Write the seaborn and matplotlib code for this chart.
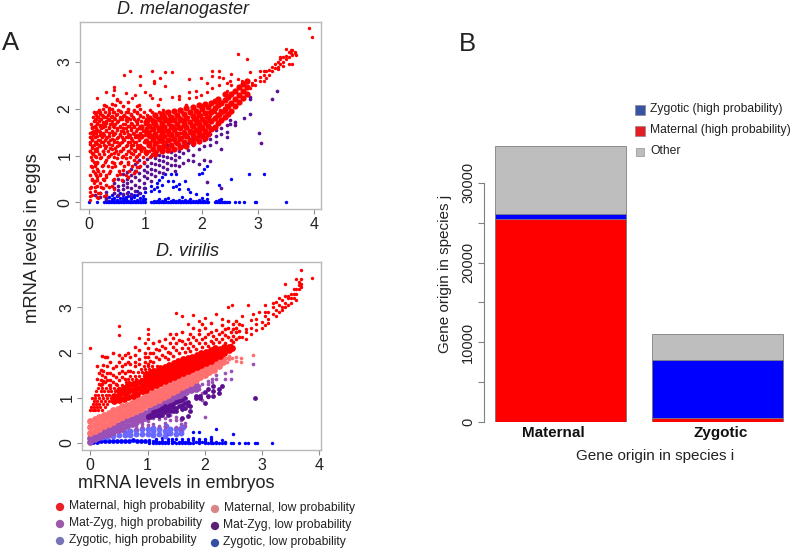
import numpy as np
import pandas as pd
import matplotlib
matplotlib.use("Agg")
import matplotlib.pyplot as plt
import seaborn as sns

sns.set_style("white")
plt.rcParams['font.family'] = ['Liberation Sans', 'DejaVu Sans']

# values, rows are (x, [y values]) unless named _h, those are (y, [x values])
mel_red_dense = [
    (0.92, [1.17, 1.42, 1.62]), (1.02, [1.08, 1.31, 1.52, 1.72]), (1.07, [1.22, 1.43, 1.63, 1.81]),
    (1.13, [1.13, 1.36, 1.56, 1.74]), (1.18, [1.03, 1.27, 1.47, 1.67, 1.86]), (1.24, [1.19, 1.38, 1.59, 1.78]),
    (1.29, [1.09, 1.31, 1.51, 1.69, 1.88]), (1.34, [1.21, 1.42, 1.62, 1.82]), (1.4, [1.12, 1.33, 1.53, 1.73, 1.94]),
    (1.46, [1.23, 1.44, 1.64, 1.83]), (1.51, [1.14, 1.36, 1.56, 1.76, 1.96]), (1.57, [1.26, 1.46, 1.67, 1.87]),
    (1.62, [1.18, 1.38, 1.58, 1.78, 1.98]), (1.68, [1.29, 1.48, 1.69, 1.89]), (1.73, [1.21, 1.41, 1.61, 1.81, 2.02]),
    (1.79, [1.33, 1.52, 1.72, 1.92]), (1.84, [1.27, 1.44, 1.64, 1.84, 2.04]), (1.9, [1.37, 1.55, 1.76, 1.96]),
    (1.95, [1.32, 1.48, 1.67, 1.87, 2.07]), (2.01, [1.42, 1.59, 1.79, 1.99]), (2.06, [1.37, 1.52, 1.71, 1.91, 2.09]),
    (2.12, [1.47, 1.63, 1.83, 2.03]), (2.17, [1.56, 1.74, 1.94, 2.12]), (2.23, [1.61, 1.81, 2.01, 2.16]),
    (2.29, [1.69, 1.87, 2.07, 2.21]), (2.35, [1.76, 1.93, 2.13]), (2.41, [1.82, 1.99, 2.18, 2.31]),
    (2.47, [1.89, 2.06, 2.24]), (2.53, [1.96, 2.13, 2.31]), (2.59, [2.06, 2.21, 2.38]), (2.66, [2.14, 2.29, 2.46]),
    (2.73, [2.22, 2.38, 2.53]), (2.8, [2.31, 2.47, 2.6]),
]
mel_red_h = [
    (0.33, [0.03, 0.11, 0.21, 0.36]), (0.47, [0.06, 0.14, 0.27, 0.43, 0.58]), (0.58, [0.02, 0.12, 0.19, 0.31, 0.49, 0.66]),
    (0.68, [0.07, 0.16, 0.24, 0.38, 0.53, 0.71, 0.83]), (0.78, [0.04, 0.11, 0.23, 0.33, 0.47, 0.62, 0.77, 0.91]),
    (0.87, [0.08, 0.15, 0.29, 0.41, 0.56, 0.69, 0.86, 0.97]),
    (0.97, [0.03, 0.13, 0.22, 0.34, 0.44, 0.59, 0.73, 0.84, 0.95, 1.09]),
    (1.03, [0.07, 0.18, 0.27, 0.39, 0.52, 0.66, 0.78, 0.89, 1.01, 1.12]),
    (1.09, [0.02, 0.11, 0.24, 0.33, 0.48, 0.57, 0.71, 0.82, 0.93, 1.06, 1.21]),
    (1.17, [0.05, 0.14, 0.29, 0.38, 0.46, 0.61, 0.74, 0.86, 0.98, 1.11, 1.25, 1.38]),
    (1.23, [0.09, 0.17, 0.26, 0.41, 0.53, 0.67, 0.79, 0.91, 1.04, 1.16, 1.31, 1.46]),
    (1.28, [0.01, 0.12, 0.21, 0.34, 0.49, 0.58, 0.72, 0.84, 0.97, 1.09, 1.23, 1.36, 1.53]),
    (1.33, [0.06, 0.16, 0.28, 0.37, 0.44, 0.63, 0.76, 0.88, 1.02, 1.14, 1.28, 1.43, 1.59]),
    (1.39, [0.03, 0.1, 0.23, 0.32, 0.51, 0.59, 0.69, 0.81, 0.93, 1.07, 1.2, 1.34, 1.49, 1.66]),
    (1.44, [0.07, 0.19, 0.27, 0.42, 0.55, 0.73, 0.86, 0.99, 1.11, 1.26, 1.41, 1.56, 1.74]),
    (1.49, [0.02, 0.13, 0.24, 0.36, 0.47, 0.62, 0.78, 0.91, 1.04, 1.17, 1.32, 1.47, 1.61, 1.8]),
    (1.53, [0.09, 0.17, 0.31, 0.4, 0.57, 0.67, 0.83, 0.95, 1.08, 1.22, 1.37, 1.52, 1.68, 1.87]),
    (1.58, [0.05, 0.12, 0.22, 0.35, 0.5, 0.61, 0.74, 0.88, 1.01, 1.15, 1.29, 1.44, 1.58, 1.74, 1.93]),
    (1.63, [0.1, 0.19, 0.28, 0.43, 0.55, 0.71, 0.8, 0.94, 1.07, 1.2, 1.35, 1.5, 1.65, 1.81, 2.0]),
    (1.67, [0.03, 0.15, 0.25, 0.37, 0.47, 0.64, 0.76, 0.86, 0.99, 1.13, 1.27, 1.41, 1.56, 1.71, 1.88, 2.06]),
    (1.73, [0.08, 0.18, 0.31, 0.41, 0.52, 0.68, 0.83, 0.93, 1.05, 1.18, 1.33, 1.46, 1.62, 1.77, 1.94, 2.13]),
    (1.78, [0.12, 0.21, 0.34, 0.46, 0.58, 0.72, 0.87, 1.01, 1.12, 1.24, 1.39, 1.53, 1.69, 1.84, 2.01, 2.2]),
    (1.83, [0.07, 0.16, 0.27, 0.39, 0.55, 0.66, 0.79, 0.95, 1.08, 1.19, 1.31, 1.47, 1.59, 1.75, 1.91, 2.08, 2.26]),
    (1.87, [0.13, 0.23, 0.33, 0.48, 0.62, 0.75, 0.9, 1.03, 1.15, 1.27, 1.42, 1.55, 1.71, 1.83, 1.98, 2.15, 2.33]),
    (1.93, [0.09, 0.19, 0.29, 0.43, 0.57, 0.7, 0.85, 0.98, 1.12, 1.24, 1.37, 1.51, 1.66, 1.8, 1.95, 2.1, 2.24, 2.4]),
    (1.97, [0.17, 0.35, 0.52, 0.8, 1.09, 1.31, 1.63, 1.9, 2.19, 2.32]),
    (2.07, [0.26, 0.46, 0.89, 1.22, 1.72, 2.02, 2.28, 2.44]),
]
mel_red_mid = [
    (0.02, [0.3, 1.1, 1.25, 1.4]), (0.06, [0.15, 0.5, 0.75, 0.9, 1.05, 1.2, 1.35, 1.5, 1.62]),
    (0.1, [0.25, 0.45, 0.62, 0.8, 1.0, 1.15, 1.3, 1.48, 1.6, 1.75, 1.9]),
    (0.15, [0.12, 0.35, 0.55, 0.72, 0.85, 1.1, 1.25, 1.42, 1.55, 1.7, 1.82, 1.93]),
    (0.2, [0.2, 0.42, 0.6, 0.95, 1.2, 1.33, 1.5, 1.65, 1.78, 1.88]),
    (0.25, [0.3, 0.5, 0.8, 1.1, 1.3, 1.45, 1.6, 1.72, 1.85, 2.0]),
    (0.3, [0.15, 0.38, 0.55, 0.9, 1.2, 1.38, 1.55, 1.7, 1.82, 2.05]),
    (0.35, [0.62, 1.0, 1.25, 1.42, 1.6, 1.75, 1.9, 2.02]),
    (0.4, [0.35, 0.75, 1.15, 1.35, 1.5, 1.68, 1.85, 2.0, 2.1]),
    (0.45, [0.5, 0.85, 1.05, 1.3, 1.45, 1.62, 1.8, 1.93]),
    (0.5, [0.95, 1.2, 1.38, 1.55, 1.72, 1.88, 2.18]),
    (0.55, [0.6, 0.85, 1.1, 1.27, 1.45, 1.6, 1.77, 1.95, 2.15]),
    (0.6, [0.7, 1.0, 1.15, 1.35, 1.52, 1.68, 1.85, 2.05]),
    (0.65, [0.95, 1.2, 1.4, 1.58, 1.75, 1.92]),
    (0.7, [0.55, 0.82, 1.1, 1.3, 1.47, 1.63, 1.8, 2.0, 2.15]),
    (0.75, [1.05, 1.22, 1.38, 1.55, 1.7, 1.88]),
    (0.8, [0.62, 0.9, 1.12, 1.3, 1.45, 1.62, 1.78, 1.95]),
    (0.85, [0.75, 1.0, 1.22, 1.4, 1.57, 1.72, 1.9, 2.05]),
    (0.9, [1.2, 1.42, 1.62, 1.85, 2.0]),
]
mel_red_sparse = [
    (0.15, [2.23]), (0.31, [2.35]), (0.43, [2.3]), (0.45, [2.4, 2.46]), (0.5, [2.2]), (0.62, [2.71]), (0.65, [2.33]),
    (0.72, [2.8]), (0.76, [2.22]), (0.82, [2.29]), (0.9, [2.7]), (0.91, [2.5]), (1.0, [2.35]), (1.08, [2.29]),
    (1.11, [2.8, 2.22]), (1.16, [2.54, 2.6]), (1.26, [2.66, 2.2]), (1.35, [2.49, 2.79]), (1.48, [2.78, 2.25]),
    (1.6, [2.2, 2.28]), (1.77, [2.63, 2.35, 2.22]), (1.9, [2.38, 2.25]), (1.98, [2.65, 2.3]), (2.09, [2.55, 2.35]),
    (2.18, [2.7, 2.45]), (2.19, [2.81]), (2.31, [2.8, 2.5]), (2.3, [2.67]), (2.38, [2.65]), (2.45, [2.38, 2.55]),
    (2.52, [2.74, 2.5]), (2.5, [2.6]), (2.65, [2.63, 3.16]), (2.71, [2.59]), (2.81, [3.06, 2.62]), (2.86, [2.78, 2.45]),
    (2.9, [2.55, 2.5]), (2.95, [2.5, 2.62]), (3.03, [2.8, 2.68, 2.6]), (3.1, [2.72, 2.8, 2.6]), (3.15, [2.8, 2.65]),
    (3.2, [2.82, 2.72]), (3.25, [2.9, 2.8]), (3.3, [2.95, 2.87]), (3.35, [3.0, 2.9, 2.84]), (3.4, [3.05, 2.95, 3.1]),
    (3.45, [3.1, 3.0, 2.92]), (3.5, [3.27, 3.12, 3.05]), (3.55, [3.2, 3.1, 2.96]), (3.58, [3.18, 3.25]),
    (3.6, [3.25, 3.15, 2.95]), (3.65, [3.18, 3.22]), (3.68, [3.15]), (3.9, [3.72]), (3.96, [3.54]),
    (0.02, [0.05, 0.14, 0.23]), (0.16, [0.09, 0.21]), (0.26, [0.13]), (0.44, [0.28]), (0.09, [0.42]),
]
mel_purple = [
    (0.1, [0.15]), (0.2, [0.2, 0.12]), (0.3, [0.22, 0.08]), (0.45, [0.3, 0.42, 0.2]), (0.52, [0.35, 0.15, 0.5, 0.26]),
    (0.6, [0.28, 0.45, 0.6, 0.18, 0.37]), (0.68, [0.2, 0.33, 0.5, 0.66, 0.41]), (0.75, [0.3, 0.45, 0.58, 0.72, 0.15]),
    (0.82, [0.25, 0.38, 0.55, 0.68, 0.82]), (0.89, [0.2, 0.34, 0.47, 0.62, 0.76, 0.9]), (0.97, [0.3, 0.42, 0.56, 0.7, 0.85]),
    (1.03, [0.52, 0.65, 0.78, 0.92]), (1.1, [0.46, 0.6, 0.72, 0.85, 1.0]), (1.17, [0.57, 0.7, 0.82, 0.95, 1.08]),
    (1.24, [0.65, 0.8, 0.9, 1.02, 1.15]), (1.31, [0.62, 0.75, 0.88, 1.0, 1.12]), (1.38, [0.72, 0.85, 0.98, 1.1, 1.22]),
    (1.45, [0.8, 0.95, 1.08, 1.2]), (1.52, [0.68, 0.8, 0.9, 1.02, 1.15, 1.28]), (1.6, [0.78, 0.98, 1.1, 1.25]),
    (1.67, [0.85, 1.05, 1.2, 1.32]), (1.75, [0.9, 1.12, 1.27, 1.4]), (1.85, [0.88, 1.02, 1.22, 1.35, 1.45]),
    (1.95, [0.82, 1.15, 1.3, 1.42, 1.52]), (2.05, [0.9, 1.2, 1.33, 1.48]), (2.15, [0.88, 1.22, 1.35, 1.45, 1.55]),
    (2.25, [1.3, 1.42, 1.55]), (2.35, [1.15, 1.45, 1.58]), (2.45, [1.4, 1.5, 1.65]), (2.5, [1.68, 1.75]), (2.6, [1.72, 1.65]),
    (2.75, [1.8]), (2.86, [2.2, 2.25, 1.88]), (3.02, [1.48]), (3.05, [1.27]), (3.25, [2.21]), (3.33, [2.38]),
    (2.1, [0.44]), (2.35, [0.3]),
]
mel_blue_base_x = [0.0, 0.15, 0.27, 0.3, 0.33, 0.36, 0.39, 0.42, 0.45, 0.48, 0.51, 0.54, 0.57, 0.6, 0.63, 0.66, 0.69,
                   0.72, 0.75, 0.78, 0.81, 0.84, 0.87, 0.9, 0.93, 0.96, 0.99, 1.1, 1.13, 1.16, 1.19, 1.22, 1.25, 1.28,
                   1.31, 1.34, 1.37, 1.4, 1.43, 1.46, 1.49, 1.52, 1.55, 1.58, 1.61, 1.64, 1.67, 1.7, 1.73, 1.76, 1.79,
                   1.82, 1.85, 1.88, 1.91, 1.94, 1.97, 2.0, 2.03, 2.06, 2.09, 2.12, 2.24, 2.27, 2.3, 2.33, 2.36, 2.39,
                   2.42, 2.45, 2.48, 2.6, 2.66, 2.75, 2.95, 2.97, 3.5]
mel_blue = [
    (0.3, [0.05, 0.1]), (0.35, [0.04, 0.12]), (0.4, [0.07, 0.15, 0.03]), (0.45, [0.03, 0.1, 0.2]), (0.5, [0.06, 0.13, 0.03]),
    (0.55, [0.03, 0.1, 0.2]), (0.6, [0.05, 0.15, 0.09]), (0.65, [0.08, 0.12, 0.03]), (0.7, [0.04, 0.14, 0.22]),
    (0.75, [0.07, 0.18, 0.11]), (0.8, [0.03, 0.11, 0.16]), (0.85, [0.06, 0.16, 0.25]), (0.9, [0.09, 0.2, 0.03]),
    (0.95, [0.04, 0.13, 0.07]), (1.0, [0.08, 0.3, 0.22]), (1.1, [0.25, 0.35]), (1.15, [0.03, 0.28]), (1.2, [0.04, 0.32, 0.42]),
    (1.25, [0.07, 0.25, 0.48]), (1.3, [0.03, 0.38, 0.55]), (1.35, [0.05, 0.6, 0.08]), (1.4, [0.1, 0.45]), (1.45, [0.03, 0.6]),
    (1.5, [0.06, 0.33, 0.45]), (1.55, [0.03, 0.35, 0.6]), (1.6, [0.05, 0.4, 0.28]), (1.65, [0.03, 0.12]), (1.7, [0.06, 0.45]),
    (1.75, [0.03, 0.28]), (1.8, [0.07, 0.22]), (1.85, [0.04]), (1.9, [0.03, 0.18]), (1.95, [0.05, 0.6]), (2.0, [0.03, 0.1, 0.62]),
    (2.05, [0.04, 0.72]), (2.1, [0.07, 0.18, 0.78]), (2.25, [0.03]), (2.3, [0.06, 0.37]), (2.35, [0.08]), (2.52, [0.5]),
    (2.85, [0.6]), (3.1, [0.6]),
]

vir_red_dense = [
    (0.42, [0.92, 1.05]), (0.5, [0.95, 1.07, 1.18]), (0.58, [0.98, 1.1, 1.22]), (0.66, [1.02, 1.14, 1.26]),
    (0.74, [1.05, 1.18, 1.3]), (0.82, [1.09, 1.22, 1.34]), (0.9, [1.14, 1.26, 1.38]), (0.98, [1.18, 1.3, 1.42, 1.52]),
    (1.06, [1.23, 1.35, 1.47, 1.57]), (1.14, [1.28, 1.4, 1.51, 1.6]), (1.22, [1.33, 1.44, 1.55, 1.65]),
    (1.3, [1.37, 1.48, 1.59, 1.69]), (1.38, [1.41, 1.52, 1.63, 1.73]), (1.46, [1.45, 1.56, 1.67, 1.77]),
    (1.54, [1.5, 1.6, 1.71, 1.81]), (1.62, [1.55, 1.65, 1.75, 1.85]), (1.7, [1.59, 1.69, 1.79, 1.88]),
    (1.78, [1.63, 1.73, 1.83, 1.91]), (1.86, [1.68, 1.77, 1.87, 1.95]), (1.94, [1.72, 1.82, 1.91, 1.99]),
    (2.02, [1.77, 1.86, 1.95, 2.02]), (2.1, [1.82, 1.91, 1.99, 2.06]), (2.18, [1.87, 1.96, 2.03, 2.09]),
    (2.26, [1.93, 2.01, 2.08]), (2.34, [1.99, 2.07, 2.13]), (2.42, [2.05, 2.12]), (2.48, [2.1]),
]
vir_red_h = [
    (0.72, [0.0, 0.05, 0.09, 0.14, 0.2]), (0.79, [0.02, 0.07, 0.12, 0.17, 0.25]), (0.86, [0.04, 0.1, 0.15, 0.22, 0.3]),
    (0.93, [0.06, 0.12, 0.19, 0.26, 0.33, 0.38]), (1.0, [0.03, 0.09, 0.16, 0.23, 0.29, 0.36, 0.43]),
    (1.07, [0.08, 0.14, 0.21, 0.27, 0.33, 0.4, 0.47]), (1.14, [0.1, 0.18, 0.24, 0.31, 0.37, 0.44, 0.52]),
    (1.21, [0.13, 0.2, 0.28, 0.35, 0.41, 0.5, 0.57]), (1.28, [0.19, 0.33, 0.47, 0.55, 0.63, 0.7]),
    (1.35, [0.62, 0.67, 0.76, 0.84]), (1.42, [0.65, 0.72, 0.8, 0.88, 0.95]), (1.49, [0.7, 0.78, 0.85, 0.93, 1.0]),
    (1.56, [0.75, 0.83, 0.9, 0.98, 1.06]), (1.63, [0.88, 0.95, 1.03, 1.1]), (1.7, [0.93, 1.01, 1.08, 1.16]),
]
vir_red_cols = [
    (0.12, [1.7, 1.42]), (0.15, [1.55, 1.3]), (0.18, [1.62, 1.4]), (0.2, [1.92, 1.5, 1.3]), (0.23, [1.72, 1.6, 1.38]),
    (0.25, [1.9, 1.45, 1.35]), (0.3, [1.9, 1.55, 1.7, 1.4]), (0.35, [1.4, 1.8, 1.55, 1.28]), (0.4, [1.98, 1.65, 1.35, 1.5]),
    (0.45, [1.7, 1.45, 1.3]), (0.5, [1.95, 1.55, 1.4, 1.8]), (0.55, [1.88, 1.45, 1.6, 1.7]), (0.6, [1.95, 1.55, 1.75, 1.42]),
    (0.65, [2.0, 1.6, 1.8]), (0.7, [1.75, 1.9, 1.6]), (0.78, [2.12, 1.8, 1.95, 1.7]), (0.85, [2.05, 1.85, 1.75]),
    (0.95, [1.8, 2.0, 1.9]), (1.0, [1.9, 2.1, 1.75]), (1.05, [1.82, 1.98]), (1.1, [1.8, 2.0, 2.2]), (1.15, [1.9, 2.08]),
    (1.2, [1.85, 2.05, 2.25]), (1.25, [1.95, 2.15]), (1.3, [1.9, 2.1, 2.3]), (1.35, [2.02, 1.86]), (1.4, [2.0, 2.2, 2.4]),
    (1.45, [1.92, 2.12, 2.32]), (1.5, [2.05, 2.2, 2.4]), (1.55, [1.98, 2.28]), (1.6, [2.1, 2.25, 2.45]), (1.65, [2.02, 2.18]),
    (1.7, [2.1, 2.3]), (1.75, [2.04, 2.22, 2.4]), (1.8, [2.15, 2.35, 2.55]), (1.85, [2.08, 2.27]), (1.9, [2.2, 2.4, 2.5]),
    (1.95, [2.12, 2.3, 2.62]), (2.0, [2.2, 2.35, 2.55]), (2.05, [2.15, 2.42]), (2.1, [2.25, 2.45, 2.65]), (2.15, [2.2, 2.36]),
    (2.2, [2.3, 2.5]), (2.25, [2.24, 2.41]), (2.3, [2.3, 2.45, 2.6]), (2.35, [2.22, 2.38, 2.52]), (2.4, [2.35, 2.55, 2.7]),
    (2.45, [2.16, 2.28, 2.46]), (2.5, [2.24, 2.36, 2.52, 2.64]), (2.55, [2.3, 2.45, 2.7, 2.55]), (2.6, [2.34, 2.48, 2.62]),
]
vir_red_sparse = [
    (0.0, [2.1]), (0.5, [2.58, 2.38]), (0.85, [2.33]), (0.95, [2.2]), (1.0, [2.42, 2.52, 2.3]), (1.5, [2.87]),
    (1.6, [2.8]), (1.8, [2.82]), (1.7, [2.63]), (1.9, [2.7]), (2.0, [2.77]), (2.2, [2.85]), (2.3, [2.75]), (2.4, [3.0]),
    (2.48, [3.05]), (2.75, [3.05]), (2.85, [2.85]), (2.95, [2.9]), (3.05, [2.6, 2.8, 2.9, 3.05]), (3.1, [2.75, 2.9, 2.65]),
    (3.2, [2.85, 3.0, 3.1]), (3.25, [2.8, 2.95, 3.12]), (3.3, [2.9, 3.05, 3.2]), (3.35, [3.0, 2.95, 3.15]),
    (3.4, [3.1, 3.0, 3.25, 3.52]), (3.45, [3.05, 3.2, 3.25]), (3.5, [3.2, 3.1, 3.3]), (3.55, [3.3, 3.2, 3.4]),
    (3.6, [3.3, 3.15, 3.4, 3.62]), (3.65, [3.4, 3.5, 3.55]), (3.68, [3.45, 3.52, 3.83, 3.63]), (3.88, [3.64]),
    (2.65, [2.6, 2.35, 2.8]), (2.72, [2.45, 2.3, 2.52]), (2.8, [2.55, 2.72, 2.4]), (2.9, [2.5, 2.62, 2.75]), (3.0, [2.55, 2.68]),
]
vir_pink_dense = [
    (0.0, [0.22, 0.35, 0.48]), (0.08, [0.27, 0.4, 0.53]), (0.16, [0.32, 0.45, 0.57]), (0.24, [0.37, 0.5, 0.62]),
    (0.32, [0.42, 0.55, 0.67]), (0.4, [0.47, 0.6, 0.72]), (0.48, [0.52, 0.64, 0.76]), (0.56, [0.57, 0.69, 0.81]),
    (0.64, [0.62, 0.73, 0.85]), (0.72, [0.66, 0.78, 0.89]), (0.8, [0.71, 0.82, 0.94]), (0.88, [0.76, 0.87, 0.98]),
    (0.96, [0.81, 0.92, 1.03]), (1.04, [0.86, 0.97, 1.08]), (1.12, [0.91, 1.02, 1.13]), (1.2, [0.96, 1.07, 1.17]),
    (1.28, [1.01, 1.12, 1.22]), (1.36, [1.07, 1.17, 1.27]), (1.44, [1.12, 1.22, 1.32]), (1.52, [1.17, 1.27, 1.37]),
    (1.6, [1.23, 1.32, 1.42]), (1.68, [1.28, 1.37, 1.47]), (1.76, [1.33, 1.42, 1.52]), (1.84, [1.39, 1.47, 1.57]),
    (1.92, [1.45, 1.53, 1.62]), (2.0, [1.5, 1.58, 1.67]), (2.08, [1.56, 1.64, 1.72]), (2.16, [1.62, 1.7, 1.77]),
    (2.24, [1.7, 1.77, 1.83]), (2.32, [1.79, 1.86]),
]
vir_pink_sparse = [
    (2.38, [1.88, 1.8]), (2.42, [1.85, 1.92]), (2.47, [1.88]), (2.55, [1.82, 1.9]), (2.64, [1.8, 1.87]), (2.85, [1.95]),
]
vir_lpurple_dense = [
    (0.0, [0.03, 0.12]), (0.08, [0.09, 0.19]), (0.16, [0.13, 0.24]), (0.24, [0.17, 0.28]), (0.32, [0.2, 0.32]),
    (0.4, [0.24, 0.36]), (0.48, [0.28, 0.4]), (0.56, [0.32, 0.45]), (0.64, [0.37, 0.5]), (0.72, [0.42, 0.54]),
    (0.8, [0.47, 0.58]), (0.88, [0.5, 0.63]), (0.96, [0.55, 0.67]), (1.04, [0.66, 0.74]), (1.12, [0.72, 0.8]),
    (1.2, [0.78, 0.87]), (1.28, [0.84, 0.92]), (1.36, [0.9, 0.97]), (1.44, [0.95, 1.02]), (1.52, [1.0, 1.08]),
    (1.6, [1.06, 1.14]), (1.68, [1.12, 1.18]), (1.76, [1.17, 1.23]), (1.84, [1.2, 1.28]),
]
vir_lpurple_sparse = [
    (0.8, [0.38, 0.3]), (0.9, [0.42, 0.35]), (1.0, [0.48, 0.4, 0.55]), (1.1, [0.55, 0.42]), (1.2, [0.52, 0.38]),
    (1.3, [0.45, 0.35, 0.56]), (1.4, [0.5, 0.62]), (1.5, [0.35, 0.5, 0.58]), (1.58, [0.42, 0.3, 0.5]), (1.65, [0.38, 0.45]),
    (1.9, [1.05, 1.2, 1.27]), (1.95, [1.1, 0.95, 1.3]), (2.05, [1.02, 1.37, 1.3]), (2.12, [1.42, 1.35]), (2.2, [1.42, 1.5]),
    (2.35, [1.55, 1.42]), (2.45, [1.6, 1.42]), (2.85, [1.75]), (2.0, [0.58]), (1.58, [0.52]),
]
vir_lblue_dense = [
    (0.2, [0.13]), (0.3, [0.14]), (0.4, [0.15]), (0.5, [0.17]), (0.6, [0.18, 0.25]), (0.7, [0.18, 0.27]), (0.8, [0.2, 0.29]),
    (0.9, [0.2, 0.31]), (1.0, [0.2, 0.3]), (1.1, [0.17, 0.26, 0.33]), (1.2, [0.2, 0.3]), (1.3, [0.15, 0.27]), (1.4, [0.22, 0.3]),
    (1.5, [0.2, 0.3]), (1.58, [0.28, 0.33, 0.22]), (1.32, [0.38]), (1.62, [0.36]),
]
vir_dpurple = [
    (1.0, [0.57, 0.6]), (1.05, [0.62, 0.58]), (1.1, [0.6, 0.68]), (1.15, [0.62, 0.7]), (1.2, [0.65, 0.72, 0.6]),
    (1.25, [0.7, 0.63, 0.77]), (1.3, [0.68, 0.75, 0.82]), (1.35, [0.62, 0.72, 0.8]), (1.4, [0.7, 0.78, 0.85]),
    (1.45, [0.7, 0.8, 0.87]), (1.5, [0.78, 0.9, 0.7]), (1.55, [0.82, 0.92]), (1.6, [0.85, 0.95, 0.75, 0.55]),
    (1.65, [0.78, 0.88, 1.0]), (1.7, [0.9, 0.83, 0.6]), (1.75, [0.82, 0.7]), (1.85, [1.0, 1.05]), (1.92, [1.05, 1.0]),
    (2.0, [0.88, 1.12]), (2.05, [1.2, 1.05]), (2.15, [1.03, 1.25, 1.15]), (2.25, [1.2, 1.1]), (2.3, [1.25]), (2.87, [1.0]),
]
vir_blue_dense = [
    (0.05, [0.02]), (0.12, [0.03]), (0.19, [0.04]), (0.26, [0.04]), (0.33, [0.05]), (0.4, [0.05]), (0.47, [0.05]), (0.54, [0.05]),
    (0.61, [0.05]), (0.68, [0.05]), (0.75, [0.06]), (0.82, [0.05]), (0.89, [0.04]), (0.96, [0.04]),
]
vir_blue = [
    (1.03, [0.0, 0.07, 0.03]), (1.1, [0.0, 0.04]), (1.15, [0.0, 0.1, 0.05]), (1.2, [0.0, 0.02]), (1.25, [0.0, 0.05, 0.12]),
    (1.3, [0.0, 0.03]), (1.35, [0.0, 0.08, 0.2, 0.04]), (1.42, [0.0, 0.1, 0.04]), (1.47, [0.02]), (1.5, [0.0, 0.08, 0.18]),
    (1.55, [0.0, 0.03]), (1.6, [0.0, 0.05, 0.1]), (1.65, [0.0, 0.02]), (1.7, [0.0, 0.1, 0.04]), (1.75, [0.0]),
    (1.8, [0.0, 0.07, 0.25, 0.12]), (1.85, [0.02]), (1.9, [0.0, 0.05, 0.1, 0.25]), (1.95, [0.03]), (2.0, [0.0, 0.08, 0.04]),
    (2.05, [0.0]), (2.1, [0.0, 0.1, 0.13, 0.05]), (2.15, [0.0]), (2.2, [0.0, 0.03, 0.3]), (2.25, [0.0]), (2.3, [0.0, 0.06]),
    (2.35, [0.0, 0.02]), (2.45, [0.0]), (2.5, [0.2, 0.0]), (2.6, [0.0]), (2.7, [0.0]), (2.75, [0.0]), (2.88, [0.0]),
    (2.92, [0.0]), (3.18, [0.0]),
]

bar_labels = ['Maternal', 'Zygotic']
bar_red = [25470, 500]
bar_blue = [630, 7280]
bar_other = [8570, 3300]

legend_a = ['Maternal, high probability', 'Mat-Zyg, high probability', 'Zygotic, high probability',
            'Maternal, low probability', 'Mat-Zyg, low probability', 'Zygotic, low probability']
legend_a_col = ['#ea2228', '#9a5aa8', '#7775b8', '#d98585', '#5b1f74', '#3450a2']
legend_b = ['Zygotic (high probability)', 'Maternal (high probability)', 'Other']
legend_b_col = ['#3953a4', '#e31e26', '#bdbdbd']


def expand(rows, swap=False):
    df = pd.DataFrame([(a, b) for a, bs in rows for b in bs], columns=['x', 'y'])
    if swap:
        df.columns = ['y', 'x']
    return df


def axes_px(fig, left, top, right, bottom):
    return fig.add_axes([left / 792, 1 - bottom / 551, (right - left) / 792, (bottom - top) / 551])


def dots(ax, rows, color, s, swap=False):
    sns.scatterplot(data=expand(rows, swap), x='x', y='y', color=color, s=s, linewidth=0, ax=ax, clip_on=False)


def style_scatter(ax, xlim, ylim):
    ax.set_xlim(xlim)
    ax.set_ylim(ylim)
    ax.set_xticks([0, 1, 2, 3, 4])
    ax.set_yticks([0, 1, 2, 3])
    ax.set_xlabel('')
    ax.set_ylabel('')
    for s in ax.spines.values():
        s.set_color('#b8b8b8')
        s.set_linewidth(1.0)
    ax.tick_params(length=3.5, width=0.8, color='#909090', labelsize=11.5, pad=2, left=True, bottom=True,
                   labelcolor='#222222')
    plt.setp(ax.get_yticklabels(), rotation=90, va='center')


fig = plt.figure(figsize=(7.92, 5.51), dpi=100)

# panel A, top
ax1 = axes_px(fig, 80, 22, 321, 209)
sns.scatterplot(x=mel_blue_base_x, y=[0.0] * len(mel_blue_base_x), color='#0000ff', s=6, linewidth=0, ax=ax1, clip_on=False)
dots(ax1, mel_blue, '#0000ff', 6)
dots(ax1, mel_purple, '#5a1090', 7)
dots(ax1, mel_red_h, '#ff0000', 7, swap=True)
dots(ax1, mel_red_mid, '#ff0000', 7)
dots(ax1, mel_red_sparse, '#ff0000', 6)
dots(ax1, mel_red_dense, '#ff0000', 20)
style_scatter(ax1, (-0.16, 4.12), (-0.14, 3.85))

# panel A, bottom
ax2 = axes_px(fig, 82, 262, 321, 450)
dots(ax2, vir_blue, '#0000ff', 6)
dots(ax2, vir_blue_dense, '#0000ff', 12)
dots(ax2, vir_lblue_dense, '#6a68ff', 18)
dots(ax2, vir_lpurple_dense, '#9a50b4', 24)
dots(ax2, vir_lpurple_sparse, '#9a50b4', 7)
dots(ax2, vir_dpurple, '#5a1090', 12)
dots(ax2, vir_pink_dense, '#ff7070', 24)
dots(ax2, vir_pink_sparse, '#ff7070', 7)
dots(ax2, vir_red_h, '#ff0000', 6, swap=True)
dots(ax2, vir_red_cols, '#ff0000', 7)
dots(ax2, vir_red_sparse, '#ff0000', 6)
dots(ax2, vir_red_dense, '#ff0000', 24)
style_scatter(ax2, (-0.145, 4.03), (-0.154, 4.0))

# panel B, stacked bars drawn tallest first
ax3 = axes_px(fig, 484, 140, 790, 422)
bar_total = np.array(bar_red) + np.array(bar_blue) + np.array(bar_other)
bar_mid = np.array(bar_red) + np.array(bar_blue)
for vals, col in [(bar_total, '#bebebe'), (bar_mid, '#0000ff'), (bar_red, '#ff0000')]:
    sns.barplot(x=bar_labels, y=vals, color=col, saturation=1, width=0.834, edgecolor='#808080', linewidth=0.6, ax=ax3)
ax3.set_xlim(-0.487, 1.462)
ax3.set_ylim(0, 35383)
ax3.set_xticks([])
ax3.set_yticks([0, 10000, 20000, 30000])
ax3.set_yticks([5000, 15000, 25000], minor=True)
ax3.tick_params(axis='y', which='both', length=4.5, width=0.8, color='#808080', left=True, labelsize=10.5, pad=2,
                labelcolor='#222222')
plt.setp(ax3.get_yticklabels(), rotation=90, va='center')
sns.despine(ax=ax3, bottom=True)
ax3.spines['left'].set_bounds(0, 30000)
ax3.spines['left'].set_color('#808080')
ax3.spines['left'].set_linewidth(0.8)
ax3.patch.set_alpha(0)

# overlay in pixel coordinates for labels and hand placed legends
ov = fig.add_axes([0, 0, 1, 1], zorder=5)
ov.set_xlim(0, 792)
ov.set_ylim(551, 0)
ov.axis('off')
txt = '#222222'
ov.text(2, 50, 'A', fontsize=18.5, color=txt)
ov.text(459, 51, 'B', fontsize=18.5, color=txt)
ov.text(183, 9, 'D. melanogaster', fontsize=13, fontstyle='italic', ha='center', va='center', color=txt)
ov.text(187, 251, 'D. virilis', fontsize=13, fontstyle='italic', ha='center', va='center', color=txt)
ov.text(33, 238, 'mRNA levels in eggs', fontsize=13.2, rotation=90, ha='center', va='center', color=txt)
ov.text(176, 483, 'mRNA levels in embryos', fontsize=13, ha='center', va='center', color=txt)
ov.text(445, 274, 'Gene origin in species j', fontsize=11, rotation=90, ha='center', va='center', color=txt)
ov.text(655, 456, 'Gene origin in species i', fontsize=11, ha='center', va='center', color=txt)
ov.text(553, 433, bar_labels[0], fontsize=11, fontweight='bold', ha='center', va='center', color='#111111')
ov.text(721, 433, bar_labels[1], fontsize=11, fontweight='bold', ha='center', va='center', color='#111111')

leg_a_x = [60, 60, 60, 215, 215, 215]
leg_a_y = [507, 524, 541, 509, 526, 543]
leg_a_tx = [69, 69, 69, 224, 223, 223]
ov.scatter(leg_a_x, leg_a_y, s=36, c=legend_a_col, linewidths=0)
for tx, ty, lab in zip(leg_a_tx, leg_a_y, legend_a):
    ov.text(tx, ty - 1, lab, fontsize=8.7, va='center', color=txt)

leg_b_y = [110, 131, 152]
ov.scatter([640] * 3, leg_b_y, s=[42, 42, 30], marker='s', c=legend_b_col, edgecolors='#808080', linewidths=0.4)
for ty, lab in zip(leg_b_y, legend_b):
    ov.text(650, ty - 1, lab, fontsize=8.7, va='center', color=txt)

fig.savefig('out.png', dpi=100)
